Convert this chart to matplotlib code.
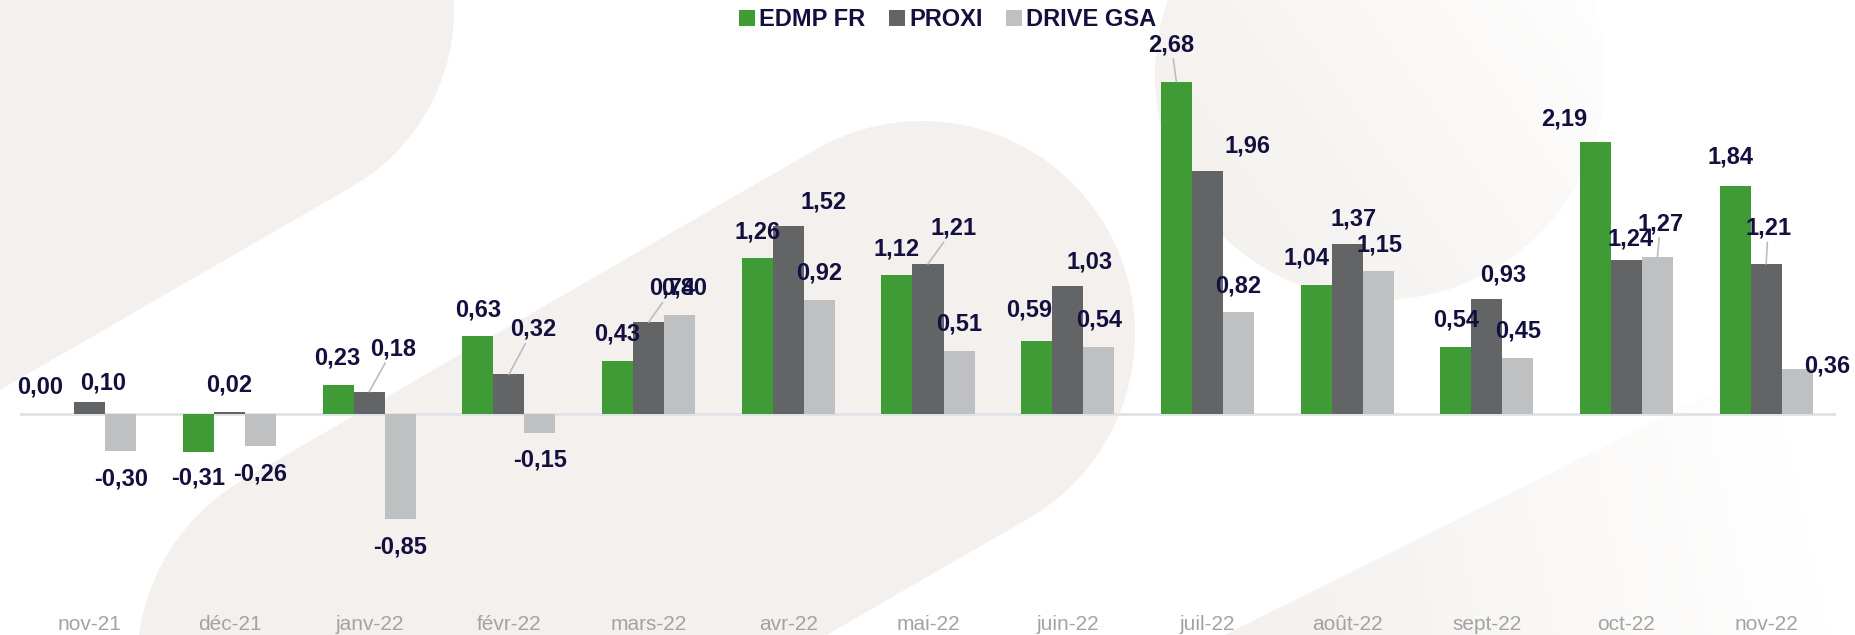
import numpy as np
import matplotlib
matplotlib.use('Agg')
import matplotlib.pyplot as plt
from matplotlib.patches import Polygon

plt.rcParams['font.family'] = ['Liberation Sans', 'DejaVu Sans']

months = ['nov-21', 'déc-21', 'janv-22', 'févr-22', 'mars-22', 'avr-22', 'mai-22',
          'juin-22', 'juil-22', 'août-22', 'sept-22', 'oct-22', 'nov-22']
edmp_fr = [0.00, -0.31, 0.23, 0.63, 0.43, 1.26, 1.12, 0.59, 2.68, 1.04, 0.54, 2.19, 1.84]
proxi = [0.10, 0.02, 0.18, 0.32, 0.74, 1.52, 1.21, 1.03, 1.96, 1.37, 0.93, 1.24, 1.21]
drive_gsa = [-0.30, -0.26, -0.85, -0.15, 0.80, 0.92, 0.51, 0.54, 0.82, 1.15, 0.45, 1.27, 0.36]
series_names = ['EDMP FR', 'PROXI', 'DRIVE GSA']

colors = ['#3e9b35', '#636466', '#bfc0c2']
navy = '#130f3f'

# label offsets from the bar end, in pixels (dx, dy); leader lines where the label was dragged
offsets = [
    [(-19, 27), (0, -26), (-1, 27), (0, 26), (0, 27), (0, 26), (0, 26),
     (-8, 31), (-5, 37), (-10, 27), (0, 27), (-31, 23), (-5, 29)],
    [(13, 19), (0, 27), (24, 43), (24, 45), (24, 34), (35, 24), (26, 36),
     (22, 24), (40, 25), (6, 25), (16, 24), (4, 21), (2, 36)],
    [(0, -28), (0, -28), (0, -28), (0, -27), (4, 27), (0, 27), (0, 27),
     (0, 27), (0, 26), (1, 26), (0, 27), (3, 33), (30, 3)],
]
leaders = [
    [False] * 8 + [True] + [False] * 4,
    [False, False, True, True, True, False, True, False, False, False, False, False, True],
    [False] * 11 + [True, False],
]

W, H = 1855, 635
fig = plt.figure(figsize=(W / 100, H / 100), dpi=100)

# decorative background shapes
bg = fig.add_axes([0, 0, 1, 1], zorder=0)
bg.set_xlim(0, W)
bg.set_ylim(H, 0)
bg.axis('off')


def stadium(c1, c2, r, n=60):
    c1 = np.asarray(c1, float)
    c2 = np.asarray(c2, float)
    a = np.arctan2(c2[1] - c1[1], c2[0] - c1[0])
    t2 = np.linspace(a - np.pi / 2, a + np.pi / 2, n)
    t1 = np.linspace(a + np.pi / 2, a + 3 * np.pi / 2, n)
    p2 = np.c_[c2[0] + r * np.cos(t2), c2[1] + r * np.sin(t2)]
    p1 = np.c_[c1[0] + r * np.cos(t1), c1[1] + r * np.sin(t1)]
    return np.vstack([p2, p1])


beige = '#f3f0ed'
bg.add_patch(Polygon(stadium((-616, 510), (250, 10), 204), closed=True,
                     facecolor=beige, edgecolor='none'))
bg.add_patch(Polygon(stadium((350, 664), (922, 334), 213), closed=True,
                     facecolor=beige, edgecolor='none'))

yy, xx = np.mgrid[0:H, 0:W]
base = np.array([243, 240, 237]) / 255.0


def gradient_fill(poly, start, end):
    sx, sy = start
    ex, ey = end
    d = np.array([ex - sx, ey - sy], float)
    t = ((xx - sx) * d[0] + (yy - sy) * d[1]) / (d @ d)
    t = np.clip(t, 0, 1)[..., None]
    img = base * (1 - t) + np.ones(3) * t
    patch = Polygon(poly, closed=True, facecolor='none', edgecolor='none',
                    transform=bg.transData)
    bg.add_patch(patch)
    im = bg.imshow(img, extent=(0, W, H, 0), interpolation='bilinear', zorder=0.5)
    im.set_clip_path(patch)


circ_t = np.linspace(0, 2 * np.pi, 120)
gradient_fill(np.c_[1380 + 225 * np.cos(circ_t), 75 + 225 * np.sin(circ_t)],
              (1200, 250), (1620, -40))
gradient_fill(np.array([[1225, 635], [1855, 322], [1855, 635]]),
              (1240, 620), (1800, 500))
bg.set_xlim(0, W)
bg.set_ylim(H, 0)

# main chart
top_px, bot_px, zero_px = 40, 605, 414
ppu = 124.0
ax = fig.add_axes([20 / W, (H - bot_px) / H, 1816 / W, (bot_px - top_px) / H], zorder=1)
ax.set_facecolor('none')
ax.set_xlim(-0.5, len(months) - 0.5)
ax.set_ylim(-(bot_px - zero_px) / ppu, (zero_px - top_px) / ppu)

x = np.arange(len(months))
bw = 0.222
data = [edmp_fr, proxi, drive_gsa]
handles = []
for k, vals in enumerate(data):
    xs = x + (k - 1) * bw
    b = ax.bar(xs, vals, width=bw, color=colors[k], linewidth=0, zorder=2)
    handles.append(b)
    for i, v in enumerate(vals):
        dx, dy = offsets[k][i]
        txt = f'{v:.2f}'.replace('.', ',')
        kw = {}
        if leaders[k][i]:
            kw['arrowprops'] = dict(arrowstyle='-', color='#bdbdbd', lw=1.2,
                                    shrinkA=0, shrinkB=0)
        ax.annotate(txt, xy=(xs[i], v), xytext=(dx, dy), textcoords='offset pixels',
                    ha='center', va='center', fontsize=17, fontweight='bold',
                    color=navy, zorder=4, **kw)

ax.axhline(0, color='#dfe2e6', lw=2, zorder=1)

ax.set_xticks(x)
ax.set_xticklabels(months, fontsize=15, color='#a3a3a3')
ax.tick_params(axis='x', length=0, pad=7)
ax.set_yticks([])
for s in ax.spines.values():
    s.set_visible(False)

fig.legend(handles, series_names, loc='center', bbox_to_anchor=(948 / W, 1 - 20 / H),
           ncol=3, frameon=False, handlelength=0.65, handleheight=0.65,
           handletextpad=0.2, columnspacing=1.0, borderaxespad=0,
           prop={'weight': 'bold', 'size': 17}, labelcolor=navy)

fig.savefig('out.png', dpi=100, facecolor='white')
